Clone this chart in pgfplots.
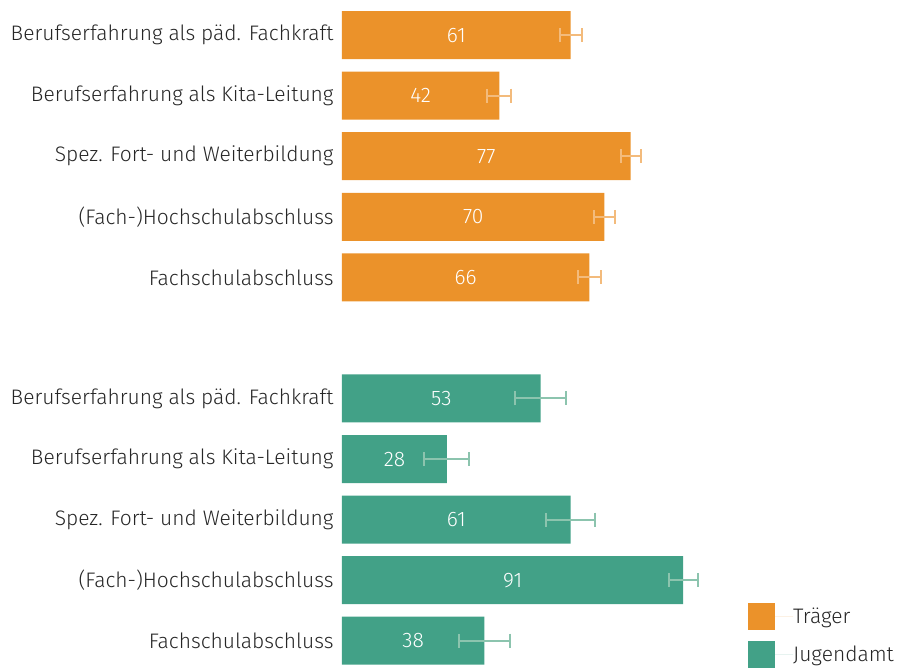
\documentclass[border=0pt]{standalone}
\usepackage{fontspec}
\setmainfont{Fira Sans}[UprightFont={* Light}]
\usepackage{pgfplots}
\pgfplotsset{compat=1.18}
\usepackage{pgfplotstable}
\definecolor{orA}{RGB}{235,146,42}
\definecolor{orE}{RGB}{243,187,124}
\definecolor{tlA}{RGB}{66,161,135}
\definecolor{tlE}{RGB}{140,196,174}
\pgfplotstableread{
y v e
0 61 2.9
1 42 3.2
2 77 2.7
3 70 2.9
4 66 3.1
}\traeger
\pgfplotstableread{
y v e
6 53 6.8
7 28 6.0
8 61 6.5
9 91 3.9
10 38 6.8
}\jugend
\begin{document}
\begin{tikzpicture}
\begin{axis}[
  name=ax,
  scale only axis,
  width=375pt, height=671pt,
  xmin=0, xmax=100,
  ymin=-0.58, ymax=10.5,
  y dir=reverse,
  axis line style={draw=none},
  tick style={draw=none},
  xtick=\empty,
  ytick={0,1,2,3,4,6,7,8,9,10},
  yticklabels={Berufserfahrung als päd. Fachkraft,Berufserfahrung als Kita-Leitung,Spez. Fort- und Weiterbildung,(Fach-)Hochschulabschluss,Fachschulabschluss,Berufserfahrung als päd. Fachkraft,Berufserfahrung als Kita-Leitung,Spez. Fort- und Weiterbildung,(Fach-)Hochschulabschluss,Fachschulabschluss},
  yticklabel style={font=\fontsize{21}{24}\selectfont, text=black!85, anchor=east, inner sep=0pt, xshift=-4pt},
  xbar, bar width=48pt, bar shift=0pt,
  clip=false,
  legend style={draw=none, fill=none, at={(axis cs:108.27,9.377)}, anchor=north west, inner sep=0pt, row sep=11pt, font=\fontsize{21}{24}\selectfont, text=black!85, nodes={inner sep=0pt}},
  legend cell align=left,
  legend image code/.code={\fill[#1] (0pt,-13.5pt) rectangle (27pt,13.5pt); \path (0pt,0pt) -- (45pt,0pt);},
]
\addplot[fill=orA, draw=none,
  error bars/.cd, x dir=both, x explicit,
  error mark=|,
  error bar style={draw=orE, line width=2pt},
  error mark options={draw=orE, line width=2pt, mark size=7pt}]
  table[x=v, y=y, x error=e] {\traeger};
\addlegendentry{Träger}
\addplot[fill=tlA, draw=none,
  error bars/.cd, x dir=both, x explicit,
  error mark=|,
  error bar style={draw=tlE, line width=2pt},
  error mark options={draw=tlE, line width=2pt, mark size=7pt}]
  table[x=v, y=y, x error=e] {\jugend};
\addlegendentry{Jugendamt}
\addplot[forget plot, draw=none, xbar=0pt, fill=none, mark=none,
  nodes near coords, point meta=explicit symbolic,
  every node near coord/.style={anchor=center, text=white, font=\fontsize{21}{24}\selectfont}]
  table[x expr=\thisrow{v}/2, y=y, meta=v] {\traeger};
\addplot[forget plot, draw=none, xbar=0pt, fill=none, mark=none,
  nodes near coords, point meta=explicit symbolic,
  every node near coord/.style={anchor=center, text=white, font=\fontsize{21}{24}\selectfont}]
  table[x expr=\thisrow{v}/2, y=y, meta=v] {\jugend};
\end{axis}
\pgfresetboundingbox
\path[use as bounding box] ([xshift=-342pt]ax.south west) rectangle ([xshift=186pt]ax.north east);
\end{tikzpicture}
\end{document}
